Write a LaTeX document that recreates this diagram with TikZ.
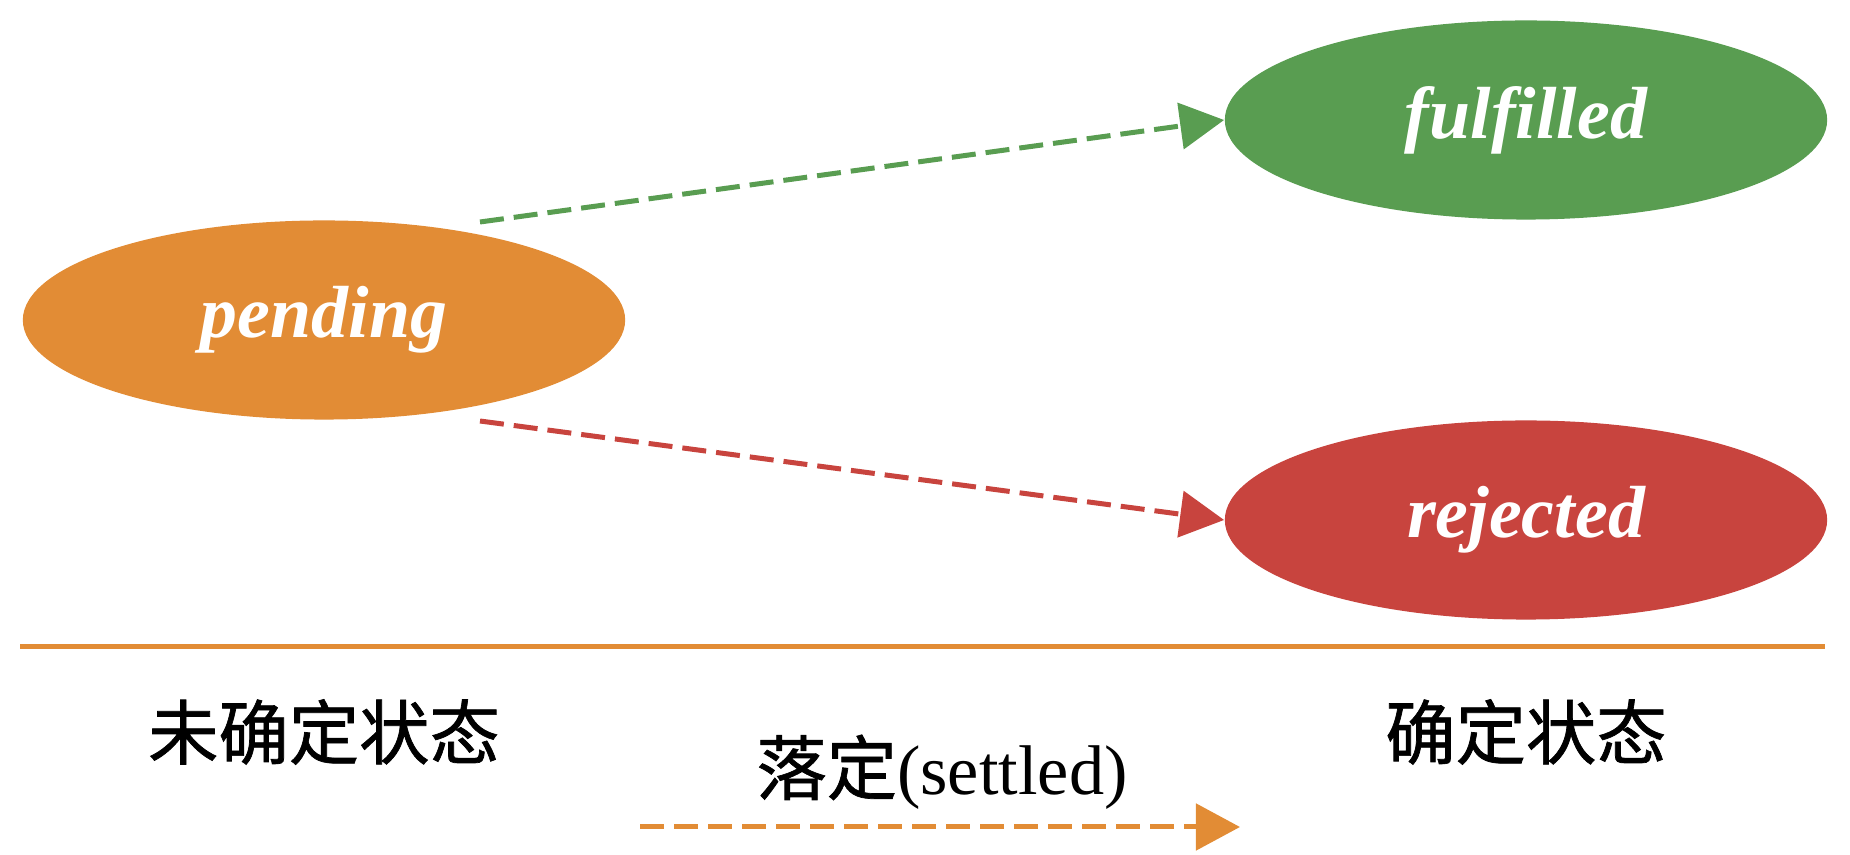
\documentclass[tikz,border=0pt]{standalone}
\usepackage{fontspec}
\setmainfont{Liberation Serif}
\newfontfamily\cjk[FakeBold=1]{Noto Sans CJK SC}
\usetikzlibrary{shapes.geometric,arrows.meta}
\definecolor{porange}{RGB}{226,140,53}
\definecolor{pgreen}{RGB}{89,157,81}
\definecolor{pred}{RGB}{200,68,62}
\tikzset{
  state/.style={ellipse,inner sep=0pt,minimum width=6.02cm,minimum height=1.99cm,
    text=white,font=\fontsize{21}{25}\selectfont\bfseries\itshape},
  settle/.style={dash pattern=on 0.24cm off 0.1cm,line width=0.05cm,
    -{Triangle[length=0.44cm,width=0.46cm]}},
  label/.style={font=\fontsize{20}{24}\selectfont}
}
\begin{document}
\begin{tikzpicture}[x=0.01cm,y=-0.01cm]
\useasboundingbox (0,0) rectangle (1850,855);
\node[state,fill=porange] (pending) at (324,320) {pending};
\node[state,fill=pgreen] (fulfilled) at (1526,120) {fulfilled};
\node[state,fill=pred] (rejected) at (1526,520) {rejected};
\coordinate (tofulfilled) at (480,222);
\coordinate (torejected) at (480,421);
\draw[settle,pgreen] (tofulfilled) -- (fulfilled.west);
\draw[settle,pred] (torejected) -- (rejected.west);
\draw[porange,line width=0.05cm] (20,647) -- (1825,647);
\node[label] (unsettled) at (324,732) {\cjk 未确定状态};
\node[label] (settled) at (1526,732) {\cjk 确定状态};
\node[label] (settlename) at (942,772) {{\cjk 落定}(settled)};
\coordinate (s0) at (640,827);
\coordinate (s1) at (1240,827);
\draw[settle,porange] (s0) -- (s1);
\end{tikzpicture}
\end{document}
